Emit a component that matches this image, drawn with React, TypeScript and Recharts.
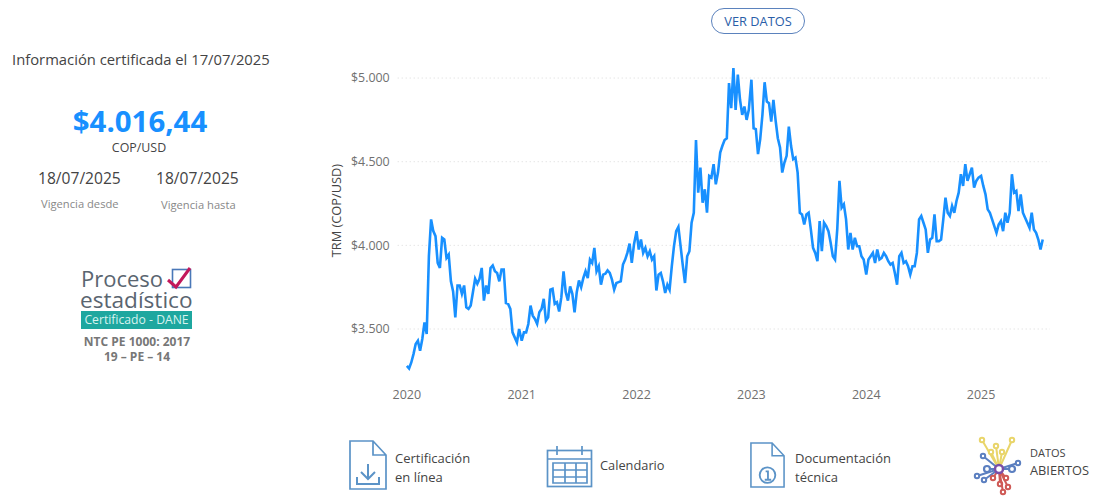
import React from 'react';
import { LineChart, Line, XAxis, YAxis, CartesianGrid } from 'recharts';

// weekly TRM readings per year
const trm2020 = [3280, 3264, 3300, 3350, 3410, 3430, 3370, 3440, 3540, 3470, 3935, 4155, 4085, 4055, 3895, 3865, 4045, 4035, 3925, 3945, 3785, 3725, 3570, 3760, 3760, 3710, 3760, 3630, 3620, 3640, 3720, 3800, 3770, 3800, 3865, 3670, 3760, 3710, 3865, 3880, 3845, 3835, 3785, 3855, 3855, 3655, 3650, 3620, 3480, 3450, 3420, 3500];
const trm2021 = [3430, 3480, 3480, 3530, 3640, 3580, 3560, 3530, 3600, 3620, 3680, 3550, 3570, 3735, 3740, 3650, 3660, 3605, 3690, 3845, 3720, 3670, 3755, 3710, 3600, 3720, 3790, 3750, 3805, 3845, 3805, 3915, 3895, 3985, 3845, 3875, 3765, 3825, 3830, 3850, 3835, 3795, 3735, 3775, 3780, 3785, 3885, 3915, 3955, 4010, 3895, 4005];
const trm2022 = [4085, 3975, 4035, 3955, 3985, 3935, 3965, 3915, 3935, 3730, 3825, 3835, 3785, 3715, 3765, 3735, 3875, 3995, 4085, 4110, 3995, 3880, 3775, 3935, 3965, 4135, 4195, 4630, 4315, 4465, 4255, 4335, 4195, 4415, 4405, 4485, 4365, 4435, 4555, 4595, 4630, 4640, 4970, 4820, 5060, 4810, 5020, 4870, 4780, 4830, 4750, 4810];
const trm2023 = [4990, 4700, 4695, 4545, 4635, 4780, 4975, 4860, 4850, 4740, 4870, 4745, 4640, 4585, 4435, 4495, 4535, 4710, 4595, 4515, 4525, 4435, 4195, 4185, 4125, 4185, 4195, 4095, 3985, 3955, 3905, 4145, 3965, 4135, 4115, 4085, 4015, 3935, 3915, 4095, 4385, 4225, 4245, 4155, 3975, 4075, 3975, 4045, 3995, 3995, 3935, 3915];
const trm2024 = [3825, 3915, 3935, 3955, 3895, 3975, 3915, 3925, 3955, 3935, 3905, 3885, 3895, 3835, 3765, 3935, 3955, 3895, 3905, 3875, 3825, 3875, 3875, 3955, 4155, 4175, 4135, 4095, 3955, 4035, 4045, 4185, 4025, 4025, 4035, 4155, 4285, 4195, 4175, 4235, 4195, 4265, 4315, 4425, 4355, 4485, 4385, 4425, 4465, 4345, 4385, 4405];
const trm2025 = [4415, 4355, 4305, 4215, 4195, 4155, 4115, 4075, 4125, 4145, 4085, 4195, 4135, 4195, 4425, 4315, 4325, 4205, 4305, 4195, 4165, 4135, 4105, 4195, 4095, 4075, 4035, 3975, 4035];

const years = [2020, 2021, 2022, 2023, 2024, 2025];
const series = [trm2020, trm2021, trm2022, trm2023, trm2024, trm2025];
const yTicks = [3500, 4000, 4500, 5000];

const data = series.flatMap((vals, y) =>
  vals.map((trm, i) => ({ t: years[y] + (i * 7) / 365.25, trm }))
);

const FONT = '"Open Sans", "Noto Sans", sans-serif';
const formatCop = (v: number) => '$' + v.toLocaleString('de-DE');

function Txt({ x, cy, size, color = '#444', weight = 400, children, center }: any) {
  const h = Math.ceil(size * 1.1);
  return (
    <div
      style={{
        position: 'absolute',
        left: center ? x - 150 : x,
        width: center ? 300 : undefined,
        textAlign: center ? 'center' : 'left',
        top: cy - h / 2,
        height: h,
        lineHeight: h + 'px',
        fontSize: size,
        color,
        fontWeight: weight,
        whiteSpace: 'nowrap',
      }}
    >
      {children}
    </div>
  );
}

function DocIcon({ x, y, w, h, children }: any) {
  return (
    <svg style={{ position: 'absolute', left: x, top: y }} width={w} height={h} viewBox="0 0 38 50" fill="none" stroke="#5b93c7" strokeWidth={1.7}>
      <path d="M1 1 H24 L37 15 V49 H1 Z M24 1 V15 H37" />
      {children}
    </svg>
  );
}

function CalendarIcon() {
  return (
    <svg style={{ position: 'absolute', left: 546, top: 444 }} width={47} height={44} fill="none" stroke="#5b93c7" strokeWidth={1.7}>
      <rect x={1.5} y={6.5} width={44} height={36} />
      <path d="M1.5 15 H45.5 M11 2 V11 M36 2 V11" />
      <path d="M7 19 H41 V39 H7 Z M7 26 H41 M7 33 H41 M19 19 V39 M30 19 V39" />
    </svg>
  );
}

function DatosLogo() {
  const dots = [
    ['#e9d56a', 1002, 452], ['#e9d56a', 996, 446], ['#e9d56a', 1012, 440], ['#e9d56a', 982, 440], ['#e9d56a', 991, 452],
    ['#5b7fc0', 987, 469], ['#5b7fc0', 977, 476], ['#5b7fc0', 983, 456], ['#5b7fc0', 1012, 469], ['#5b7fc0', 1018, 463], ['#5b7fc0', 984, 480],
    ['#cf5a56', 1000, 484], ['#cf5a56', 1006, 478], ['#cf5a56', 993, 478], ['#cf5a56', 1003, 492], ['#cf5a56', 1008, 487],
  ] as [string, number, number][];
  return (
    <svg style={{ position: 'absolute', left: 970, top: 432 }} width={56} height={66} viewBox="970 432 56 66" fill="none" strokeWidth={2}>
      {dots.map(([c, cx, cy], i) => (
        <g key={i} stroke={c}>
          <line x1={999} y1={469} x2={cx} y2={cy} />
          <circle cx={cx} cy={cy} r={2.2} fill="#fff" />
        </g>
      ))}
      <circle cx={999} cy={469} r={4} stroke="#7b4fa8" strokeWidth={2.5} fill="#fff" />
      <circle cx={987} cy={469} r={3} stroke="#5b7fc0" strokeWidth={2.2} fill="#fff" />
      <circle cx={1012} cy={469} r={3} stroke="#5b7fc0" strokeWidth={2.2} fill="#fff" />
    </svg>
  );
}

export default function App() {
  return (
    <div style={{ position: 'absolute', left: 0, top: 0, width: 1095, height: 498, background: '#fff', fontFamily: FONT, overflow: 'hidden' }}>
      <LineChart
        width={1095}
        height={498}
        data={data}
        margin={{ top: 61.3, right: 45, bottom: 96, left: 322 }}
        style={{ position: 'absolute', left: 0, top: 0 }}
      >
        <CartesianGrid vertical={false} stroke="#d9d9d9" strokeDasharray="1 3" horizontalValues={yTicks} />
        <XAxis
          dataKey="t"
          type="number"
          domain={[2019.92, 2025.6]}
          ticks={years}
          allowDataOverflow
          tickFormatter={(v) => String(v)}
          axisLine={false}
          tickLine={false}
          tickMargin={5}
          height={22.8}
          tick={{ fill: '#707070', fontSize: 12.5, fontFamily: FONT }}
        />
        <YAxis
          type="number"
          domain={[3200, 5100]}
          ticks={yTicks}
          allowDataOverflow
          tickFormatter={formatCop}
          axisLine={false}
          tickLine={false}
          tickMargin={2}
          width={75.7}
          tick={{ fill: '#707070', fontSize: 12.4, fontFamily: FONT }}
          label={{ value: 'TRM (COP/USD)', angle: -90, position: 'insideLeft', offset: 14, dy: 37, fill: '#444', fontSize: 12.8, fontFamily: FONT }}
        />
        <Line
          dataKey="trm"
          type="linear"
          stroke="#1890ff"
          strokeWidth={2.6}
          dot={false}
          isAnimationActive={false}
        />
      </LineChart>

      <div style={{ position: 'absolute', left: 711, top: 8, width: 92, height: 24, border: '1px solid #5b82bd', borderRadius: 13, textAlign: 'center', lineHeight: '24px', fontSize: 12.8, color: '#2a5ea8', whiteSpace: 'nowrap' }}>
        VER DATOS
      </div>

      <Txt x={12} cy={59} size={14.8}>Información certificada el 17/07/2025</Txt>
      <Txt x={140} cy={121} size={29.4} weight={700} color="#1890ff" center>$4.016,44</Txt>
      <Txt x={139} cy={148} size={12.4} center>COP/USD</Txt>
      <Txt x={38} cy={178} size={15.6}>18/07/2025</Txt>
      <Txt x={156} cy={178} size={15.6}>18/07/2025</Txt>
      <Txt x={41} cy={203} size={11.2} color="#888">Vigencia desde</Txt>
      <Txt x={161} cy={204} size={11.2} color="#888">Vigencia hasta</Txt>

      <Txt x={81} cy={278} size={22} color="#5a6570">Proceso</Txt>
      <Txt x={80} cy={299} size={22.6} color="#5a6570">estadístico</Txt>
      <svg style={{ position: 'absolute', left: 165, top: 265 }} width={30} height={28} fill="none">
        <rect x={7.5} y={4.5} width={18} height={18} stroke="#4a78b8" strokeWidth={1.6} />
        <path d="M3 15 L11 22 L25 3" stroke="#c2185b" strokeWidth={3} />
      </svg>
      <div style={{ position: 'absolute', left: 81, top: 311, width: 111, height: 18, background: '#1ea79f', color: '#d8f3ef', fontSize: 12.2, lineHeight: '18px', textAlign: 'center', whiteSpace: 'nowrap' }}>
        Certificado - DANE
      </div>
      <Txt x={137} cy={342} size={12} weight={700} color="#777" center>NTC PE 1000: 2017</Txt>
      <Txt x={137} cy={357} size={12} weight={700} color="#777" center>19 – PE – 14</Txt>

      <DocIcon x={349} y={440} w={38} h={50}>
        <path d="M19 24 V39 M12 32 L19 39 L26 32 M8 37 V44 H30 V37" strokeWidth={2} />
      </DocIcon>
      <Txt x={395} cy={458} size={13}>Certificación</Txt>
      <Txt x={395} cy={477} size={13}>en línea</Txt>
      <CalendarIcon />
      <Txt x={600} cy={465} size={12.8}>Calendario</Txt>
      <DocIcon x={750} y={442} w={35} h={46}>
        <circle cx={19} cy={36} r={8.5} strokeWidth={2} />
        <path d="M17 32 H19.5 V41 M16 41 H23" strokeWidth={2} />
      </DocIcon>
      <Txt x={795} cy={458} size={13}>Documentación</Txt>
      <Txt x={795} cy={477} size={13}>técnica</Txt>
      <DatosLogo />
      <Txt x={1030} cy={452} size={11}>DATOS</Txt>
      <Txt x={1030} cy={470} size={12.8}>ABIERTOS</Txt>
    </div>
  );
}
